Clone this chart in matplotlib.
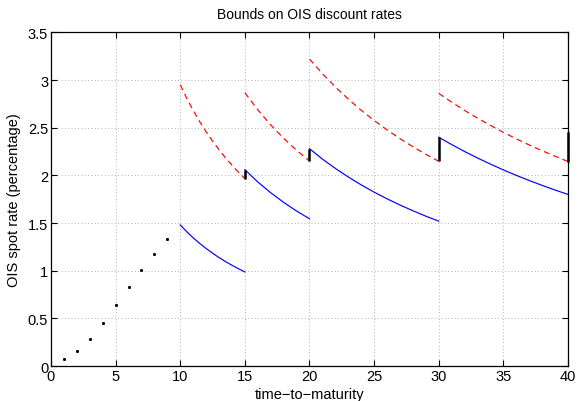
import matplotlib
matplotlib.use("Agg")
import matplotlib.pyplot as plt

plt.rcParams['font.family'] = ['Liberation Sans', 'DejaVu Sans']

# short-maturity points
dot_t = [1, 2, 3, 4, 5, 6, 7, 8, 9]
dot_r = [0.07, 0.153, 0.286, 0.453, 0.64, 0.826, 1.004, 1.175, 1.333]

# bound segments: maturities, lower (blue) and upper (red) bounds
seg_t = [
    [10, 10.5, 11, 11.5, 12, 12.5, 13, 13.5, 14, 14.5, 15],
    [15, 16, 17, 18, 19, 20],
    [20, 21, 22, 23, 24, 25, 26, 27, 28, 29, 30],
    [30, 31, 32, 33, 34, 35, 36, 37, 38, 39, 40],
]
lower = [
    [1.48, 1.41, 1.345, 1.287, 1.233, 1.184, 1.138, 1.096, 1.057, 1.021, 0.987],
    [2.06, 1.931, 1.818, 1.717, 1.626, 1.545],
    [2.28, 2.171, 2.073, 1.983, 1.900, 1.824, 1.754, 1.689, 1.629, 1.572, 1.52],
    [2.40, 2.323, 2.250, 2.182, 2.118, 2.057, 2.000, 1.946, 1.895, 1.846, 1.80],
]
upper = [
    [2.95, 2.81, 2.682, 2.565, 2.458, 2.36, 2.269, 2.185, 2.107, 2.034, 1.967],
    [2.867, 2.688, 2.529, 2.389, 2.263, 2.15],
    [3.22, 3.067, 2.927, 2.800, 2.683, 2.576, 2.477, 2.385, 2.300, 2.221, 2.147],
    [2.86, 2.768, 2.681, 2.600, 2.524, 2.451, 2.383, 2.319, 2.258, 2.200, 2.145],
]

# jumps between bounds at the knots
jump_t = [15, 20, 30, 40]
jump_lo = [1.967, 2.15, 2.147, 2.145]
jump_hi = [2.06, 2.28, 2.40, 2.46]

fig = plt.figure(figsize=(5.79, 4.02), dpi=100)
ax = fig.add_axes([0.088, 0.087, 0.893, 0.830])

ax.plot(dot_t, dot_r, linestyle='none', marker='s', markersize=1.1, color='k')
for t, lo, hi in zip(seg_t, lower, upper):
    ax.plot(t, hi, color='red', linestyle='--', linewidth=0.85, dashes=(5, 3.5))
    ax.plot(t, lo, color='blue', linewidth=0.85)
ax.vlines(jump_t, jump_lo, jump_hi, color='k', linewidth=1.8, clip_on=False)

ax.set_xlim(0, 40)
ax.set_ylim(0, 3.5)
ax.set_xticks(range(0, 41, 5))
ax.set_yticks([0, 0.5, 1, 1.5, 2, 2.5, 3, 3.5])
ax.set_yticklabels(['0', '0.5', '1', '1.5', '2', '2.5', '3', '3.5'])
ax.grid(True, linestyle=(0, (1, 3)), color='0.6', linewidth=0.6)
ax.tick_params(direction='in', top=True, right=True, length=4, width=0.8,
               labelsize=10.5, pad=2)
for s in ax.spines.values():
    s.set_linewidth(0.9)

ax.set_title('Bounds on OIS discount rates', fontsize=10, pad=10)
ax.set_xlabel('time\u2212to\u2212maturity', fontsize=10.5, labelpad=3)
ax.set_ylabel('OIS spot rate (percentage)', fontsize=10.5, labelpad=5)

fig.savefig('out.png', dpi=100)
